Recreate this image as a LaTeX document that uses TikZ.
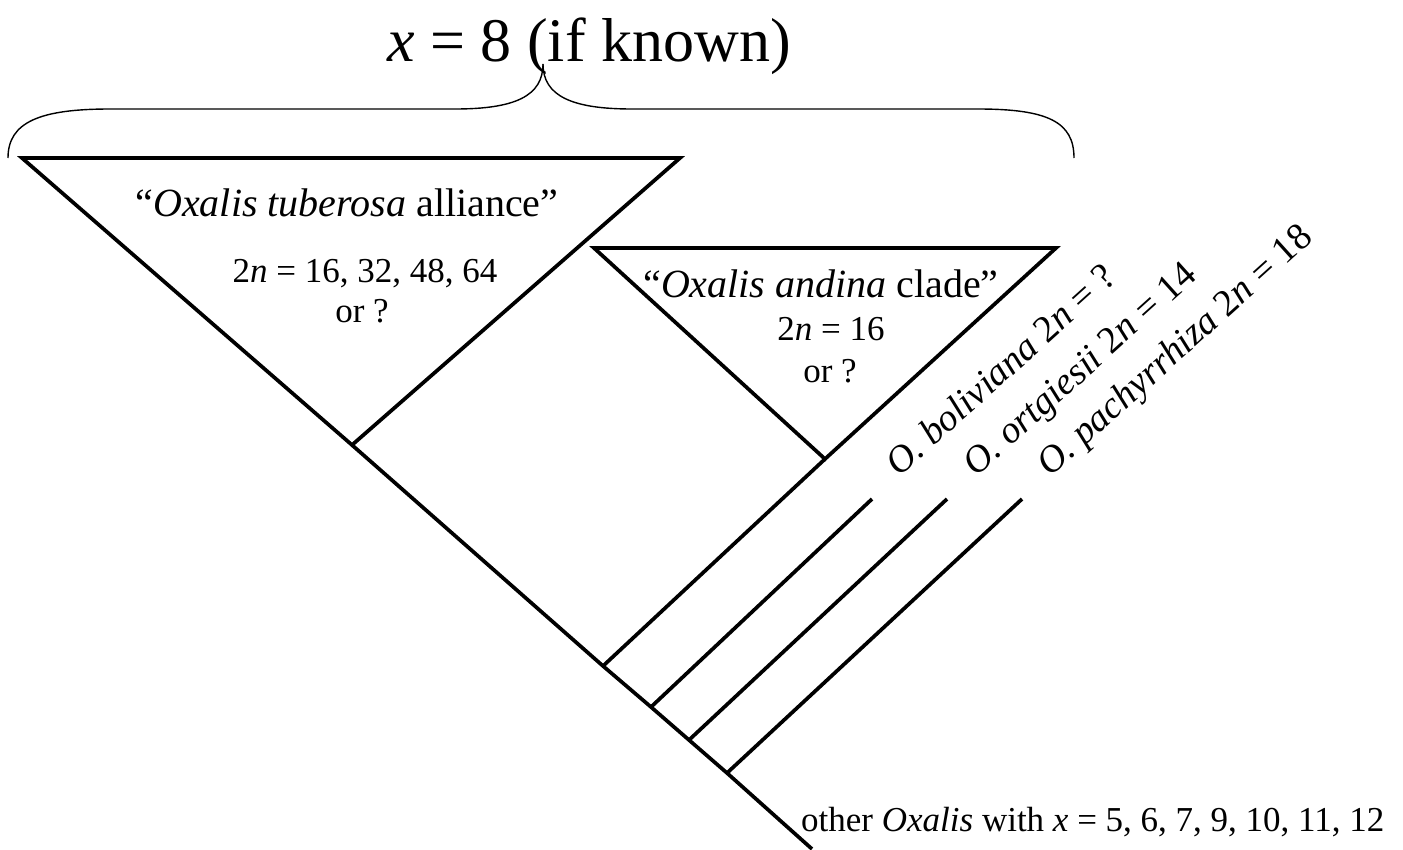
\documentclass[tikz,border=0pt]{standalone}
\usepackage{fontspec}
\setmainfont{Liberation Serif}
\begin{document}
\begin{tikzpicture}[x=1pt,y=-1pt,
  edge/.style={line width=3.7pt, line join=miter, line cap=butt},
  bracel/.style={line width=1.4pt},
  txt/.style={inner sep=0pt, anchor=base},
  titlefont/.style={font=\fontsize{62}{68}\selectfont},
  headfont/.style={font=\fontsize{40}{44}\selectfont},
  numfont/.style={font=\fontsize{35}{40}\selectfont},
  diagfont/.style={font=\fontsize{38}{42}\selectfont, inner sep=0pt, anchor=base west, rotate=42},
  botfont/.style={font=\fontsize{35}{39}\selectfont}]
\useasboundingbox (0,0) rectangle (1403,849);

% tree coordinates
\coordinate (tl) at (22,158);
\coordinate (tr) at (680,158);
\coordinate (ta) at (352,445);
\coordinate (j1) at (603,666);
\coordinate (j2) at (651,707);
\coordinate (j3) at (689,740);
\coordinate (j4) at (727,773);
\coordinate (root) at (812,849);
\coordinate (atl) at (594,248);
\coordinate (atr) at (1056,248);
\coordinate (aa) at (825,459);
\coordinate (b1) at (872,499);
\coordinate (b2) at (947,499);
\coordinate (b3) at (1022,499);
\coordinate (bl) at (8,158);
\coordinate (tip) at (543,64);
\coordinate (br) at (1074,158);

% tuberosa triangle and trunk
\draw[edge] (ta) -- (tl) -- (tr) -- cycle;
\draw[edge] (ta) -- (j1) -- (j2) -- (j3) -- (j4) -- (root);
% andina triangle
\draw[edge] (aa) -- (atl) -- (atr) -- cycle;
\draw[edge] (aa) -- (j1);
% single-species branches
\draw[edge] (j2) -- (b1);
\draw[edge] (j3) -- (b2);
\draw[edge] (j4) -- (b3);

% brace
\draw[bracel] (bl) .. controls (8,122) and (40,109) .. (110,109) -- (455,109)
  .. controls (515,109) and (543,96) .. (tip);
\draw[bracel] (tip) .. controls (543,96) and (572,109) .. (632,109) -- (978,109)
  .. controls (1048,109) and (1074,122) .. (br);

% texts
\node[txt, titlefont] (title) at (589,61) {\textit{x} = 8 (if known)};

\node[txt, headfont] (tub1) at (347,216) {“\textit{Oxalis tuberosa} alliance”};
\node[txt, numfont] (tub2) at (365,282) {2\textit{n} = 16, 32, 48, 64};
\node[txt, numfont] (tub3) at (362,322) {or ?};

\node[txt, headfont] (and1) at (821,297) {“\textit{Oxalis andina} clade”};
\node[txt, numfont] (and2) at (831,340) {2\textit{n} = 16};
\node[txt, numfont] (and3) at (830,382) {or ?};

\node[diagfont] (bol) at (899,478) {\textit{O. boliviana} 2\textit{n} = ?};
\node[diagfont] (ort) at (976,478) {\textit{O. ortgiesii} 2\textit{n} = 14};
\node[diagfont] (pac) at (1050,478) {\textit{O. pachyrrhiza} 2\textit{n} = 18};

\node[txt, botfont, anchor=base west] (other) at (801,831) {other \textit{Oxalis} with \textit{x} = 5, 6, 7, 9, 10, 11, 12};
\end{tikzpicture}
\end{document}
